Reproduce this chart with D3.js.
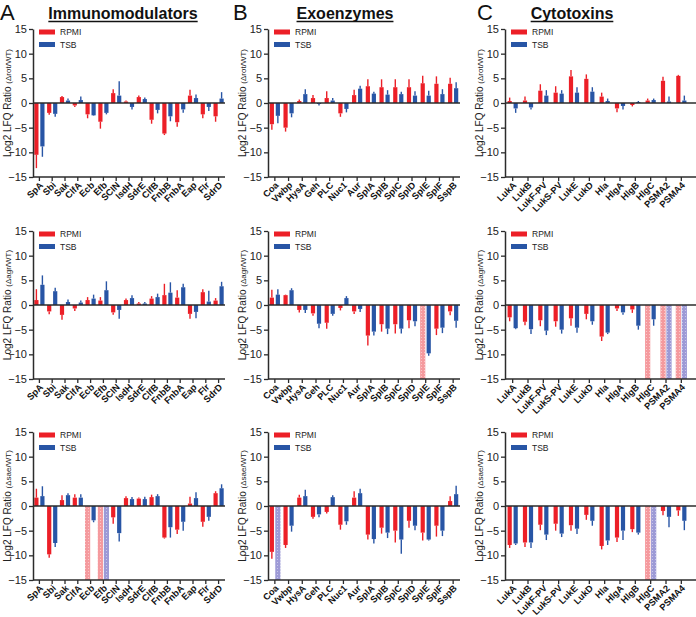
<!DOCTYPE html>
<html><head><meta charset="utf-8">
<script src="https://cdn.jsdelivr.net/npm/d3@7"></script>
<style>body{margin:0;background:#fff}svg{display:block;font-family:"Liberation Sans",Arial,Helvetica,sans-serif}</style>
</head><body><svg id="c" width="696" height="617"></svg>
<script>
// ---------- categories & labels ----------
const immCats  = ["SpA","Sbi","Sak","ClfA","Ecb","Efb","SCIN","IsdH","SdrE","ClfB","FnbB","FnbA","Eap","Flr","SdrD"];
const exoCats  = ["Coa","Vwbp","HysA","Geh","PLC","Nuc1","Aur","SplA","SplB","SplC","SplD","SplE","SplF","SspB"];
const cytoCats = ["LukA","LukB","LukF-PV","LukS-PV","LukE","LukD","Hla","HlgA","HlgB","HlgC","PSMA2","PSMA4"];
const groupTitles = ["Immunomodulators","Exoenzymes","Cytotoxins"];
const panelLetters = ["A","B","C"];
const mutants = ["rot","agr","sae"];
const seriesNames = ["RPMI","TSB"];
const yTicks = [15,10,5,0,-5,-10,-15];

// ---------- values: [mean, sd]; null = not detected (hatched) ----------
const immRotRPMI = [[-10.5,2.7],[-2.0,0.4],[1.2,0.2],[-0.5,0.3],[-2.3,0.8],[-3.8,1.4],[2.0,0.8],[0.3,0.2],[1.2,0.3],[-3.4,0.8],[-6.2,0.3],[-3.9,0.9],[1.5,1.2],[-2.3,0.8],[-2.7,1.1]];
const immRotTSB  = [[-8.8,2.1],[-2.2,0.6],[0.5,0.4],[0.6,0.7],[-2.5,0.1],[-2.0,0.3],[1.5,2.9],[-0.8,0.5],[0.8,0.3],[-1.4,0.7],[-2.7,1.0],[-1.3,0.7],[1.0,0.7],[-0.8,0.8],[0.9,1.3]];
const immAgrRPMI = [[1.0,2.2],[-1.3,0.6],[-2.0,1.0],[-0.7,0.5],[1.0,0.6],[0.9,0.7],[-1.5,0.5],[1.0,0.3],[0.3,0.3],[1.3,0.5],[2.0,2.3],[1.5,1.5],[-1.8,1.0],[2.6,0.6],[0.9,0.5]];
const immAgrTSB  = [[4.1,1.9],[2.8,0.7],[0.6,0.5],[0.5,0.4],[1.3,0.8],[3.0,1.8],[-1.0,1.8],[1.4,0.6],[0.3,0.3],[1.6,0.7],[2.5,2.1],[3.6,0.7],[-1.4,1.3],[0.7,2.2],[3.8,0.9]];
const immSaeRPMI = [[1.7,1.8],[-9.8,0.7],[1.2,1.0],[1.7,0.7],null,null,[-2.3,1.3],[1.6,0.4],[1.5,0.2],[1.8,0.5],[-6.4,0.2],[-4.8,0.9],[0.5,1.4],[-3.2,1.0],[2.6,0.4]];
const immSaeTSB  = [[2.0,2.0],[-7.5,0.8],[2.2,0.4],[1.7,0.7],[-2.9,0.4],null,[-5.5,1.7],[1.4,0.4],[1.4,0.5],[2.0,0.4],[-4.3,2.1],[-3.2,1.8],[1.6,1.2],[-2.2,0.8],[3.6,0.8]];

const exoRotRPMI = [[-4.3,1.1],[-5.0,0.8],[0.4,0.3],[1.0,0.6],[1.0,1.4],[-2.1,0.7],[1.6,1.1],[3.4,1.4],[3.2,1.6],[3.2,1.6],[3.2,1.6],[4.0,1.5],[3.9,1.5],[3.9,1.2]];
const exoRotTSB  = [[-2.6,1.5],[-2.1,0.8],[1.8,1.0],[-0.2,0.3],[0.5,0.5],[-1.2,0.7],[2.9,0.6],[1.9,0.4],[1.7,0.9],[1.8,0.5],[1.5,0.9],[1.5,1.0],[1.8,1.0],[3.0,1.2]];
const exoAgrRPMI = [[1.5,1.6],[2.0,0.1],[-1.0,0.5],[-1.7,0.5],[-3.6,1.2],[-0.6,0.5],[-1.3,0.5],[-6.2,2.0],[-3.9,1.5],[-3.9,1.9],[-3.1,1.6],null,[-4.8,1.3],[-1.3,0.8]];
const exoAgrTSB  = [[2.1,1.1],[3.0,0.4],[-1.0,0.6],[-3.8,0.9],[-1.8,0.4],[1.4,0.4],[-0.8,0.6],[-5.4,0.8],[-4.8,1.1],[-4.8,1.0],[-3.3,1.0],[-9.8,0.5],[-4.6,1.1],[-3.2,1.4]];
const exoSaeRPMI = [[-9.3,1.4],[-7.9,0.6],[1.7,0.6],[-2.2,0.4],[-1.2,0.3],[-3.8,1.0],[1.7,1.3],[-5.8,1.0],[-4.4,1.2],[-5.0,2.4],[-3.0,1.4],[-5.4,1.6],[-4.0,2.2],[1.0,1.0]];
const exoSaeTSB  = [null,[-4.0,1.2],[2.0,1.3],[-1.7,0.6],[1.8,0.4],[-3.1,0.7],[2.6,0.9],[-6.7,0.9],[-5.4,1.1],[-6.8,2.9],[-4.0,0.9],[-6.8,0.2],[-5.0,1.1],[2.4,1.7]];

const cytoRotRPMI = [[0.4,0.7],[0.5,0.8],[2.5,1.3],[2.1,1.3],[5.4,1.3],[4.9,0.9],[1.3,0.8],[-1.1,0.8],[-0.4,0.3],[0.5,0.4],[4.5,0.8],[5.5,0.2]];
const cytoRotTSB  = [[-1.1,0.9],[-0.9,0.4],[1.5,1.1],[1.9,0.7],[2.1,1.1],[2.3,0.9],[0.4,0.5],[-0.6,0.7],[0.2,0.2],[0.6,0.3],[0.3,1.0],[0.5,1.0]];
const cytoAgrRPMI = [[-2.5,0.8],[-3.4,0.7],[-3.1,1.2],[-3.3,1.1],[-2.7,1.5],[-1.8,1.1],[-6.4,0.9],[-0.7,0.5],[-0.9,0.7],null,null,null];
const cytoAgrTSB  = [[-4.7,0.2],[-4.9,1.0],[-5.2,0.9],[-5.0,0.8],[-4.6,1.0],[-3.3,0.7],[-5.6,0.3],[-1.5,0.5],[-4.2,0.8],[-2.9,1.3],null,null];
const cytoSaeRPMI = [[-7.9,0.6],[-7.4,0.9],[-3.8,1.1],[-3.6,1.4],[-3.9,1.1],[-1.8,1.0],[-8.1,0.7],[-6.4,0.9],[-4.7,0.6],null,[-1.0,0.9],[-0.9,1.1]];
const cytoSaeTSB  = [[-7.6,0.3],[-7.4,1.1],[-5.8,1.1],[-5.6,0.7],[-4.6,1.1],[-3.0,1.0],[-7.0,0.9],[-5.0,1.9],[-5.4,0.4],null,[-2.2,2.1],[-3.0,1.9]];

// ---------- panel table ----------
const catsByCol = [immCats, exoCats, cytoCats];
const dataGrid = [
  [[immRotRPMI, immRotTSB], [exoRotRPMI, exoRotTSB], [cytoRotRPMI, cytoRotTSB]],
  [[immAgrRPMI, immAgrTSB], [exoAgrRPMI, exoAgrTSB], [cytoAgrRPMI, cytoAgrTSB]],
  [[immSaeRPMI, immSaeTSB], [exoSaeRPMI, exoSaeTSB], [cytoSaeRPMI, cytoSaeTSB]]
];

// ---------- layout ----------
const colX = [33, 268, 505];
const colBandW = [192, 192, 184];
const colLineW = [192, 192, 191];
const rowTop = [29, 231, 432];
const plotH = 148;
const titleX = [123, 345, 572];
const letterX = [0, 233, 477];
const colors = ["#ec1f27", "#2855a5"];
const hatchBg = ["#f59a9e", "#9d9ad6"];
const axisColor = "#2b2b2b";

const svg = d3.select("#c");
const defs = svg.append("defs");
[0,1].forEach(s => {
  const p = defs.append("pattern").attr("id","hatch"+s).attr("patternUnits","userSpaceOnUse")
    .attr("width",3).attr("height",3);
  p.append("rect").attr("width",3).attr("height",3).attr("fill",hatchBg[s]);
  p.append("rect").attr("x",1).attr("y",1).attr("width",1).attr("height",1).attr("fill","#ffffff").attr("opacity",0.45);
});

// titles & letters
for (let c = 0; c < 3; c++) {
  svg.append("text").attr("x", letterX[c]).attr("y", 20).attr("font-size", 22).attr("fill","#111").text(panelLetters[c]);
  const t = svg.append("text").attr("x", titleX[c]).attr("y", 19).attr("text-anchor","middle")
    .attr("font-size", 16).attr("font-weight","bold").attr("fill","#111").text(groupTitles[c]);
  const w = t.node().getComputedTextLength();
  svg.append("line").attr("x1", titleX[c]-w/2).attr("x2", titleX[c]+w/2).attr("y1", 21.5).attr("y2", 21.5)
    .attr("stroke","#111").attr("stroke-width",1.5);
}

for (let r = 0; r < 3; r++) {
  for (let c = 0; c < 3; c++) {
    const cats = catsByCol[c];
    const [rp, ts] = dataGrid[r][c];
    const x0 = colX[c], top = rowTop[r], bottom = top + plotH;
    const y = d3.scaleLinear().domain([-15, 15]).range([bottom, top]);
    const x = d3.scaleBand().domain(cats).range([x0, x0 + colBandW[c]]);
    const g = svg.append("g");

    // bars
    [rp, ts].forEach((arr, s) => {
      const off = s === 0 ? -3 : 3;
      arr.forEach((d, i) => {
        const cx = x(cats[i]) + x.bandwidth()/2 + off;
        if (d === null) {
          g.append("rect").attr("x", cx - 2.6).attr("width", 5.2)
            .attr("y", y(0)).attr("height", y(-15) - y(0)).attr("fill", `url(#hatch${s})`);
          return;
        }
        const [m, sd] = d;
        g.append("rect").attr("x", cx - 2.1).attr("width", 4.2)
          .attr("y", y(Math.max(0, m))).attr("height", Math.abs(y(m) - y(0)))
          .attr("fill", colors[s]);
        const tip = m >= 0 ? m + sd : m - sd;
        g.append("line").attr("x1", cx).attr("x2", cx).attr("y1", y(m)).attr("y2", y(tip))
          .attr("stroke", colors[s]).attr("stroke-width", 1.4);
      });
    });

    // zero line
    g.append("line").attr("x1", x0).attr("x2", x0 + colLineW[c]).attr("y1", y(0)).attr("y2", y(0))
      .attr("stroke", axisColor).attr("stroke-width", 1.5);

    // y axis
    const ya = g.append("g").attr("transform", `translate(${x0},0)`)
      .call(d3.axisLeft(y).tickValues(yTicks).tickSize(4).tickSizeOuter(0).tickPadding(2));
    ya.select(".domain").attr("stroke", axisColor).attr("stroke-width", 1.5);
    ya.selectAll(".tick line").attr("stroke", axisColor).attr("stroke-width", 1.3);
    ya.selectAll(".tick text").attr("font-size", 11).attr("fill","#222").attr("font-family",null);

    // x axis
    const xa = g.append("g").attr("transform", `translate(0,${bottom})`)
      .call(d3.axisBottom(x).tickSize(4).tickSizeOuter(0));
    xa.select(".domain").remove();
    xa.append("line").attr("x1", x0).attr("x2", x0 + colLineW[c]).attr("y1", 0).attr("y2", 0)
      .attr("stroke", axisColor).attr("stroke-width", 1.5);
    xa.selectAll(".tick line").attr("stroke", axisColor).attr("stroke-width", 1.3);
    xa.selectAll(".tick text").attr("font-size", 9.2).attr("font-weight","bold").attr("fill","#111")
      .attr("font-family",null)
      .attr("text-anchor","end").attr("x",0).attr("y",0).attr("dy","0.35em")
      .attr("transform","translate(2,6.5) rotate(-45)");

    // y label
    const lab = g.append("text").attr("transform", `translate(${x0-22},${(top+bottom)/2}) rotate(-90)`)
      .attr("text-anchor","middle").attr("fill","#222");
    lab.append("tspan").attr("font-size", 10).text("Log2 LFQ Ratio ");
    lab.append("tspan").attr("font-size", 8).text(`(\u0394${mutants[r]}/WT)`);

    // legend
    seriesNames.forEach((nm, s) => {
      const ly = top + 3 + s * 12.5;
      g.append("rect").attr("x", x0 + 6).attr("y", ly - 2.5).attr("width", 16).attr("height", 5).attr("fill", colors[s]);
      g.append("text").attr("x", x0 + 27).attr("y", ly + 3).attr("font-size", 8.5).attr("fill","#222").text(nm);
    });
  }
}
</script></body></html>
